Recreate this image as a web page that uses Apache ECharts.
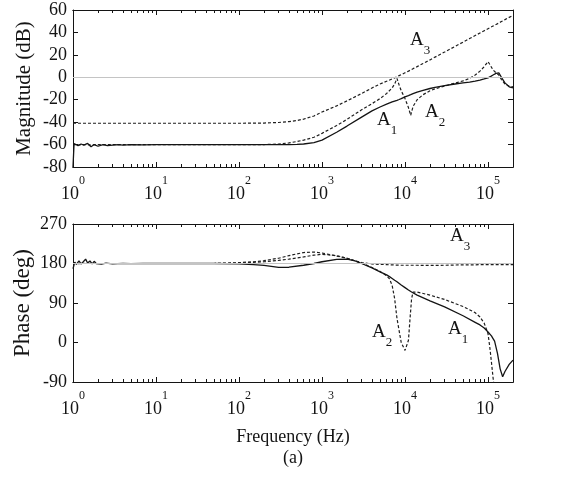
<!DOCTYPE html>
<html>
<head>
<meta charset="utf-8">
<script src="https://cdn.jsdelivr.net/npm/echarts@6/dist/echarts.min.js"></script>
<style>
  html, body { margin: 0; padding: 0; background: #fff; }
  #main { width: 567px; height: 481px; }
</style>
</head>
<body>
<div id="main"></div>
<script>
// 幅频 频率点 (Hz)
var freqMag = [1, 1.03, 1.08, 1.15, 1.25, 1.35, 1.5, 1.65, 1.8, 2,
  2.3, 2.6, 3, 3.5, 4, 5, 7, 10, 20, 50,
  100, 200, 300, 400, 500, 600, 800, 1000, 1500, 2000,
  3000, 4000, 5000, 6000, 7000, 7500, 8000, 8500, 9000, 10000,
  11000, 11700, 12500, 14000, 16500, 20000, 23000, 30000, 40000, 50000,
  60000, 70000, 80000, 90000, 100000, 108000, 115000, 125000, 135000, 145000,
  160000, 180000, 200000];

var magA1 = [-80, -59, -58, -61, -59.5, -60.5, -59, -62, -60, -61.5,
  -60, -61, -60.5, -60, -60.5, -60, -60.3, -60, -60, -60,
  -60, -60, -60, -60, -59.8, -59.5, -58.3, -56, -49, -43.5,
  -35.5, -30, -26.5, -24, -22, -21.2, -20.5, -19.8, -19, -17.5,
  -16.3, -15.5, -14.6, -13.2, -11.6, -10, -9, -7.5, -6, -5,
  -4.3, -3.5, -2.5, -1.5, -0.5, 0.8, 2, 3.5, 4, 0,
  -5, -8.5, -9.5];

var magA2 = [-60, -60, -60, -60.5, -60, -60, -60, -60.5, -60, -60,
  -60, -60, -60, -60, -60, -60, -60, -60, -60, -60,
  -60, -60, -59.6, -58.5, -57.3, -56, -53.5, -50, -43, -37.5,
  -29, -23.5, -19, -14.5, -9.5, -6, -1, -7, -12, -19,
  -27, -34, -26, -20, -15.5, -12, -10.3, -7.8, -5.2, -3.2,
  -1, 2, 5.5, 9.5, 14, 10, 6.5, 4, 2, -2,
  -6, -8, -8.5];

var magA3 = [-41, -41, -41, -41, -41, -41, -41, -41, -41, -41,
  -41, -41, -41, -41, -41, -41, -41, -41, -41, -41,
  -41, -40.8, -40.3, -39.5, -38.5, -37.3, -34.5, -31, -25.5, -21,
  -14.5, -9.5, -6, -3.5, -1.5, -0.5, 0.5, 1.5, 2.3, 4,
  5.5, 6.5, 7.7, 9.5, 12.3, 15.5, 18, 22.5, 27.5, 31.3,
  34.5, 37.2, 39.5, 41.5, 43.3, 44.6, 45.7, 47.1, 48.4, 49.7,
  51.4, 53.4, 55.2];

// 相频 频率点 (Hz)
var freqPh = [1, 1.05, 1.1, 1.18, 1.25, 1.33, 1.42, 1.5, 1.6, 1.7,
  1.8, 1.9, 2, 2.2, 2.5, 3, 4, 5, 7, 10,
  20, 50, 100, 150, 200, 300, 400, 600, 800, 1000,
  1500, 2000, 2500, 3000, 4000, 5000, 6000, 6500, 7000, 7500,
  8000, 9000, 10000, 10500, 11000, 11500, 12000, 12500, 14000, 20000,
  30000, 50000, 70000, 80000, 90000, 100000, 105000, 110000, 115000, 120000,
  130000, 140000, 150000, 160000, 180000, 200000];

var phA1 = [168, 183, 178, 186, 179, 184, 190, 181, 186, 179,
  185, 180, 183, 178.5, 181, 179, 180.5, 179.5, 180.5, 180,
  180, 180, 179, 177.5, 175.5, 171, 171.5, 176, 180, 184,
  189.5, 190, 186, 180, 170, 161, 154, 150, 146, 142,
  138.5, 131, 125, 122, 119.5, 117, 115, 113, 108, 95,
  81, 61, 46, 40, 33, 24, 20, 15, 9, 3,
  -25, -60, -78, -66, -50, -40];

var phA2 = [180, 181, 180, 179.5, 180, 180.5, 180, 180, 180.5, 180,
  180, 180, 180, 180, 180, 180, 180, 180, 180, 180,
  180, 180, 181, 182.5, 184, 187, 190, 195, 199, 201,
  198, 192, 186, 181, 171, 162, 152, 145, 130, 100,
  55, 0, -18, -14, 5, 55, 100, 115, 115, 108,
  98, 82, 68, 58, 44, 20, -10, -45, -80, -110,
  null, null, null, null, null, null];

var phA3 = [180, 180, 180, 180, 180, 180, 180, 180, 180, 180,
  180, 180, 180, 180, 180, 180, 180, 180, 180, 180,
  180, 180, 182, 184, 186.5, 192, 198, 205, 206, 204,
  197, 192, 186, 182, 179, 178, 177.5, 177, 177, 176.5,
  176.5, 176, 176, 176, 176, 176, 176, 176, 176, 175.5,
  176, 177, 177, 177.5, 177.5, 177.5, 177.5, 177.5, 177.5, 177.5,
  177.5, 177.5, 177.5, 177.5, 177.5, 177.5];

var decades = [1, 10, 100, 1000, 10000, 100000];
var magTicks = [-80, -60, -40, -20, 0, 20, 40, 60];
var phaseTicks = [-90, 0, 90, 180, 270];

// 对数刻度 2..9 的小刻度
var minorTicks = [];
decades.forEach(function (d) {
    for (var k = 2; k <= 9; k++) {
        if (d * k <= 2e5) minorTicks.push(d * k);
    }
});

var FONT = '"Liberation Serif", "Times New Roman", serif';
var INK = '#141414';

function pairs(f, v) {
    return f.map(function (x, i) { return [x, v[i]]; });
}

var powRich = {
    b: {fontFamily: FONT, fontSize: 18, color: INK, lineHeight: 28, verticalAlign: 'bottom'},
    s: {fontFamily: FONT, fontSize: 12, color: INK, lineHeight: 12, verticalAlign: 'top'}
};

function powLabel(v) {
    var e = Math.round(Math.log(v) / Math.LN10);
    return '{b|10}{s|' + e + '}';
}

// 每个 grid 4 条 x 轴：下主/下次/上主/上次
function xAxes(grid) {
    var list = [];
    [['bottom', decades, 5, true], ['bottom', minorTicks, 3, false],
     ['top', decades, 5, false], ['top', minorTicks, 3, false]].forEach(function (c) {
        list.push({
            type: 'log', logBase: 10, gridIndex: grid, min: 1, max: 2e5,
            position: c[0],
            axisLine: {show: true, onZero: false, lineStyle: {color: INK, width: 1}},
            axisTick: {show: true, inside: true, length: c[2], customValues: c[1], lineStyle: {color: INK, width: 1}},
            axisLabel: c[3] ? {show: true, customValues: decades, margin: 8, formatter: powLabel, rich: powRich}
                            : {show: false},
            splitLine: {show: false},
            minorTick: {show: false}
        });
    });
    return list;
}

function yAxes(grid, ticks, name, gap, nameSize) {
    var base = {
        type: 'value', gridIndex: grid,
        min: ticks[0], max: ticks[ticks.length - 1], interval: ticks[1] - ticks[0],
        axisLine: {show: true, onZero: false, lineStyle: {color: INK, width: 1}},
        axisTick: {show: true, inside: true, length: 5, lineStyle: {color: INK, width: 1}},
        splitLine: {show: false}
    };
    return [
        Object.assign({}, base, {
            position: 'left',
            axisLabel: {margin: 6, fontFamily: FONT, fontSize: 18, color: INK},
            name: name, nameLocation: 'middle', nameGap: gap, nameMoveOverlap: false,
            nameTextStyle: {fontFamily: FONT, fontSize: nameSize, color: INK}
        }),
        Object.assign({}, base, {position: 'right', axisLabel: {show: false}})
    ];
}

function refLine(v) {
    return {
        silent: true, symbol: 'none', label: {show: false},
        lineStyle: {color: '#c4c4c4', width: 1, type: 'solid'},
        data: [{yAxis: v}]
    };
}

function line(name, xi, yi, data, dashed, mark) {
    var s = {
        name: name, type: 'line', xAxisIndex: xi, yAxisIndex: yi,
        data: data, showSymbol: false, symbol: 'none', connectNulls: false,
        clip: true, animation: false,
        lineStyle: dashed ? {color: '#1e1e1e', width: 1.2, type: [3, 2]}
                          : {color: INK, width: 1.3, type: 'solid'}
    };
    if (mark) s.markLine = mark;
    return s;
}

function tag(x, y, n) {
    return {
        type: 'text', x: x, y: y, silent: true,
        style: {
            text: '{a|A}{s|' + n + '}',
            align: 'left', verticalAlign: 'middle',
            rich: {
                a: {fontFamily: FONT, fontSize: 19, fill: INK, color: INK, lineHeight: 26, verticalAlign: 'top'},
                s: {fontFamily: FONT, fontSize: 13, fill: INK, color: INK, lineHeight: 10, verticalAlign: 'bottom'}
            }
        }
    };
}

function note(x, y, t) {
    return {
        type: 'text', x: x, y: y, silent: true,
        style: {text: t, fontFamily: FONT, fontSize: 18, fill: INK, align: 'center', verticalAlign: 'middle'}
    };
}

var myChart = echarts.init(document.getElementById('main'));

var option = {
    backgroundColor: '#fff',
    animation: false,
    grid: [
        {left: 73, right: 54, top: 10, height: 157, containLabel: false, outerBoundsMode: 'none'},
        {left: 73, right: 54, top: 224, height: 158, containLabel: false, outerBoundsMode: 'none'}
    ],
    xAxis: xAxes(0).concat(xAxes(1)),
    yAxis: yAxes(0, magTicks, 'Magnitude (dB)', 38, 21).concat(yAxes(1, phaseTicks, 'Phase (deg)', 39, 23)),
    series: [
        line('A3', 0, 0, pairs(freqMag, magA3), true, refLine(0)),
        line('A2', 0, 0, pairs(freqMag, magA2), true),
        line('A1', 0, 0, pairs(freqMag, magA1), false),
        line('A3', 4, 2, pairs(freqPh, phA3), true, refLine(180)),
        line('A2', 4, 2, pairs(freqPh, phA2), true),
        line('A1', 4, 2, pairs(freqPh, phA1), false)
    ],
    graphic: [
        tag(410, 44, 3), tag(377, 124, 1), tag(425, 116, 2),
        tag(450, 240, 3), tag(372, 336, 2), tag(448, 333, 1),
        note(293, 437, 'Frequency (Hz)'),
        note(293, 458, '(a)')
    ]
};

myChart.setOption(option);
</script>
</body>
</html>
